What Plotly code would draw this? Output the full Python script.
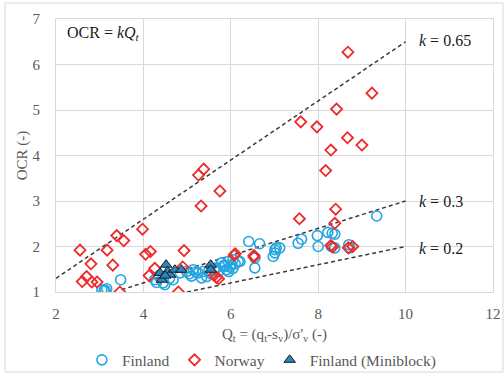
import plotly.graph_objects as go

# ---- data ----
finland_q = [
    3.05, 3.10, 3.12, 3.16, 3.48, 4.26, 4.30, 4.45, 4.49, 4.60,
    4.68, 4.84, 4.99, 5.05, 5.14, 5.20, 5.25, 5.33, 5.36, 5.45,
    5.55, 5.62, 5.67, 5.72, 5.79, 5.83, 5.86, 5.90, 5.94, 5.98,
    6.02, 6.05, 6.10, 6.17, 6.21, 6.41, 6.66, 6.55, 6.55, 6.97,
    7.01, 7.04, 7.12, 7.01, 7.54, 7.62, 7.98, 8.00, 8.22, 8.32,
    8.38, 8.30, 8.38, 8.70, 8.72, 9.34, 4.35, 5.10, 5.50, 5.95,
    6.05]
finland_ocr = [
    1.05, 1.03, 1.04, 1.07, 1.27, 1.27, 1.21, 1.20, 1.16, 1.30,
    1.27, 1.42, 1.45, 1.40, 1.49, 1.44, 1.42, 1.31, 1.45, 1.34,
    1.40, 1.50, 1.53, 1.45, 1.64, 1.58, 1.56, 1.49, 1.67, 1.55,
    1.60, 1.71, 1.62, 1.67, 1.67, 2.11, 2.06, 1.75, 1.53, 1.78,
    1.86, 1.97, 1.97, 1.93, 2.07, 2.16, 2.24, 2.00, 2.31, 2.29,
    2.27, 2.00, 1.97, 2.04, 1.97, 2.67, 1.35, 1.35, 1.47, 1.45,
    1.52]

norway_q = [
    8.68, 9.23, 8.42, 7.60, 7.97, 8.67, 9.00, 8.29, 8.17, 5.26,
    5.38, 5.75, 5.32, 8.40, 7.57, 8.38, 3.98, 3.39, 3.55, 2.55,
    3.17, 4.93, 8.29, 8.33, 8.69, 8.79, 4.05, 4.16, 6.10, 6.08,
    6.53, 6.53, 2.80, 3.30, 4.26, 4.90, 2.70, 4.13, 2.60, 2.82,
    2.94, 5.62, 5.67, 5.72, 3.46, 4.80]
norway_ocr = [
    6.27, 5.37, 5.02, 4.74, 4.63, 4.39, 4.23, 4.12, 3.67, 3.57,
    3.70, 3.22, 2.89, 2.82, 2.61, 2.51, 2.38, 2.24, 2.13, 1.92,
    1.92, 1.91, 2.02, 1.99, 1.97, 2.00, 1.83, 1.89, 1.84, 1.81,
    1.80, 1.77, 1.62, 1.59, 1.52, 1.55, 1.34, 1.36, 1.23, 1.22,
    1.22, 1.37, 1.32, 1.29, 1.00, 1.00]

mini_q = [4.52, 4.42, 4.38, 4.55, 4.61, 4.72, 4.87, 5.54, 5.54, 4.50]
mini_ocr = [1.60, 1.27, 1.42, 1.45, 1.38, 1.49, 1.49, 1.60, 1.49, 1.36]

k_values = [0.65, 0.3, 0.2]
k_labels = ["<i>k</i> = 0.65", "<i>k</i> = 0.3", "<i>k</i> = 0.2"]
k_q_start = [2, 3.5, 5]
k_q_end = [10, 10, 10]
k_label_y = [6.52, 3.0, 1.95]

x_ticks = [2, 4, 6, 8, 10, 12]
y_ticks = [1, 2, 3, 4, 5, 6, 7]

FONT = "Liberation Serif"
BLUE = "#24A6E0"
RED = "#EE2A2A"

fig = go.Figure()

# k-lines
for k, q0, q1 in zip(k_values, k_q_start, k_q_end):
    fig.add_trace(go.Scatter(
        x=[q0, q1], y=[k * q0, k * q1], mode="lines",
        line=dict(color="#3a3a3a", width=1.5, dash="4px,3px"),
        showlegend=False, hoverinfo="skip"))

fig.add_trace(go.Scatter(
    x=finland_q, y=finland_ocr, mode="markers", name="Finland",
    marker=dict(symbol="circle-open", size=10, color=BLUE,
                line=dict(width=1.6, color=BLUE))))
fig.add_trace(go.Scatter(
    x=norway_q, y=norway_ocr, mode="markers", name="Norway",
    marker=dict(symbol="diamond-open", size=8.5, color=RED,
                line=dict(width=1.8, color=RED))))
fig.add_trace(go.Scatter(
    x=mini_q, y=mini_ocr, mode="markers", name="Finland (Miniblock)",
    marker=dict(symbol="triangle-up", size=10, color="#2A86BE",
                line=dict(width=1, color="#1a1a1a"))))

for lbl, ly in zip(k_labels, k_label_y):
    fig.add_annotation(x=10.25, y=ly, text=lbl, showarrow=False,
                       xanchor="left", yanchor="middle",
                       font=dict(family=FONT, size=16, color="#1a1a1a"))

fig.add_annotation(x=2.2, y=6.69, text="OCR = <i>kQ<sub>t</sub></i>",
                   showarrow=False, xanchor="left", yanchor="middle",
                   font=dict(family=FONT, size=16, color="#1a1a1a"))

# outer chart border
fig.add_shape(type="rect", xref="paper", yref="paper",
              x0=(5 - 56) / 437, x1=(503 - 56) / 437,
              y0=(292 - 372) / 273, y1=(292 - 3) / 273,
              line=dict(color="#d9d9d9", width=1), layer="below")

fig.update_layout(
    width=504, height=375,
    margin=dict(l=56, r=11, t=19, b=83, autoexpand=False),
    paper_bgcolor="white", plot_bgcolor="white",
    font=dict(family=FONT, size=15, color="#595959"),
    legend=dict(orientation="h", x=0.47, xanchor="center", y=-0.25,
                yanchor="middle", font=dict(family=FONT, size=15.5, color="#595959"),
                itemwidth=30, tracegroupgap=0, bgcolor="rgba(0,0,0,0)"),
    xaxis=dict(range=[2, 12], tickvals=x_ticks, showgrid=True,
               gridcolor="#d9d9d9", gridwidth=1, zeroline=False,
               showline=True, linecolor="#d9d9d9", mirror=True,
               ticks="", ticklabelstandoff=8, automargin=False,
               tickfont=dict(family=FONT, size=15, color="#595959"),
               title=dict(text="Q<sub>t</sub> = (q<sub>t</sub>-s<sub>v</sub>)/σ'<sub>v</sub> (-)",
                          font=dict(family=FONT, size=15, color="#595959"),
                          standoff=7)),
    yaxis=dict(range=[1, 7], tickvals=y_ticks, showgrid=True,
               gridcolor="#d9d9d9", gridwidth=1, zeroline=False,
               showline=True, linecolor="#d9d9d9", mirror=True,
               ticks="", ticklabelstandoff=12, automargin=False,
               tickfont=dict(family=FONT, size=15, color="#595959"),
               title=dict(text="OCR (-)",
                          font=dict(family=FONT, size=15, color="#595959"),
                          standoff=1)),
)

fig.write_html("out.html")
